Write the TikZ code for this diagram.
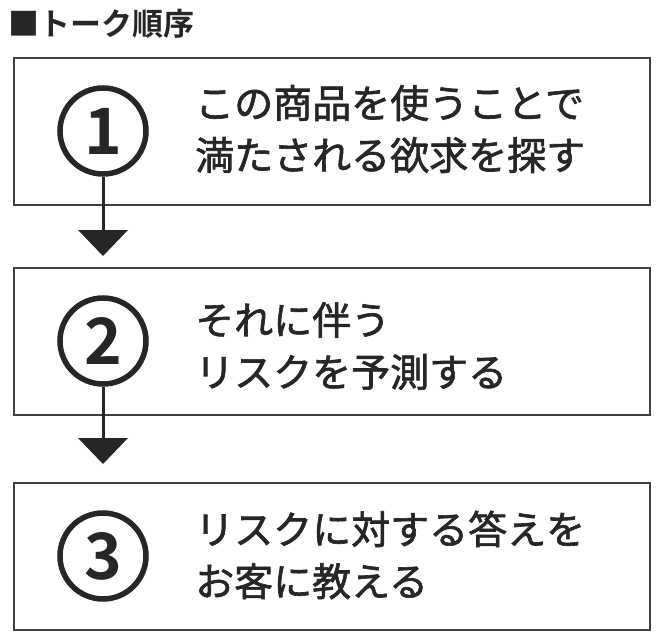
\documentclass[tikz,border=0pt]{standalone}
\usepackage{fontspec}
\newfontfamily\cjk{Noto Sans CJK JP}[FakeBold=1.6]
\newfontfamily\cjkb{Noto Sans CJK JP Bold}
\begin{document}
\begin{tikzpicture}[x=1pt,y=-1pt,
  box/.style={draw=black!75,line width=1.6pt},
  num/.style={circle,draw=black!85,line width=5.5pt,minimum size=86pt,inner sep=0pt,font=\cjkb\fontsize{64}{64}\selectfont,text=black!85},
  txt/.style={anchor=west,align=left,font=\cjk\fontsize{39}{52}\selectfont,text=black!85,inner sep=0pt},
  arr/.style={draw=black!85,line width=3pt},
  head/.style={fill=black!85}]
\useasboundingbox (0,0) rectangle (665,642);
\node[anchor=west,inner sep=0pt,font=\cjkb\fontsize{31}{31}\selectfont,text=black!85] (title) at (8,24) {■トーク順序};
\draw[box] (14,58) rectangle (650,205);
\draw[box] (14,268) rectangle (650,415);
\draw[box] (14,483) rectangle (650,630);
\node[num] (c1) at (103,131) {1};
\node[num] (c2) at (103,341) {2};
\node[num] (c3) at (103,556) {3};
\node[txt] (t1) at (195,129) {この商品を使うことで\\満たされる欲求を探す};
\node[txt] (t2) at (195,346) {それに伴う\\リスクを予測する};
\node[txt] (t3) at (195,555) {リスクに対する答えを\\お客に教える};
\coordinate (h1) at (103,232);
\coordinate (h2) at (103,440);
\draw[arr] (c1.south) -- (h1);
\draw[arr] (c2.south) -- (h2);
\fill[head] (78,230) -- (128,230) -- (103,256) -- cycle;
\fill[head] (78,438) -- (128,438) -- (103,464) -- cycle;
\end{tikzpicture}
\end{document}
